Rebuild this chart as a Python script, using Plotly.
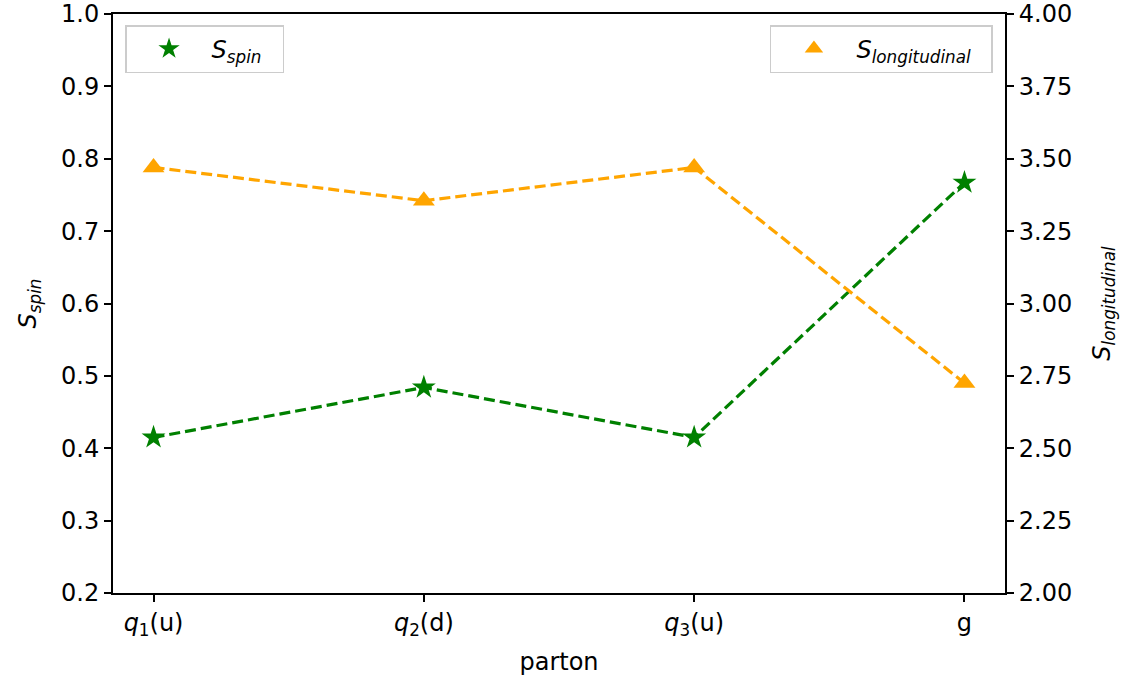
import plotly.graph_objects as go

partons = ["<i>q</i><sub>1</sub>(u)", "<i>q</i><sub>2</sub>(d)", "<i>q</i><sub>3</sub>(u)", "g"]
s_spin = [0.415, 0.484, 0.415, 0.767]
s_long = [3.47, 3.355, 3.47, 2.725]
left_ticks = [0.2, 0.3, 0.4, 0.5, 0.6, 0.7, 0.8, 0.9, 1.0]
right_ticks = [2.00, 2.25, 2.50, 2.75, 3.00, 3.25, 3.50, 3.75, 4.00]

xpos = list(range(len(partons)))
FONT = "DejaVu Sans"
fs = 24
spin_name = "<i>S</i><sub><i>spin</i></sub>"
long_name = "<i>S</i><sub><i>longitudinal</i></sub>"
pad = "&nbsp;&nbsp;"

fig = go.Figure()
fig.add_trace(go.Scatter(
    x=xpos, y=s_spin, mode="lines+markers", name=spin_name, showlegend=False,
    line=dict(color="green", width=3.2, dash="11px,5px"),
    marker=dict(symbol="star", size=18, color="green"), yaxis="y"))
fig.add_trace(go.Scatter(
    x=xpos, y=s_long, mode="lines+markers", name=long_name, showlegend=False,
    line=dict(color="orange", width=3.2, dash="11px,5px"),
    marker=dict(symbol="triangle-up", size=19, color="orange"), yaxis="y2"))
# legend entries (markers only, as in the reference)
fig.add_trace(go.Scatter(
    x=[None], y=[None], mode="markers", name=spin_name + pad, legend="legend",
    marker=dict(symbol="star", size=16, color="green"), yaxis="y"))
fig.add_trace(go.Scatter(
    x=[None], y=[None], mode="markers", name=long_name + pad, legend="legend2",
    marker=dict(symbol="triangle-up", size=16, color="orange"), yaxis="y2"))

axis_common = dict(showline=True, linecolor="black", linewidth=2, ticks="outside",
                   ticklen=7, tickwidth=1.5, tickcolor="black", showgrid=False,
                   zeroline=False, automargin=False,
                   tickfont=dict(family=FONT, size=fs, color="black"))

fig.update_layout(
    width=1123, height=677,
    margin=dict(l=113, r=118, t=14, b=84),
    plot_bgcolor="white", paper_bgcolor="white",
    font=dict(family=FONT, size=fs, color="black"),
    xaxis=dict(range=[-0.15, 3.15], tickmode="array", tickvals=xpos, ticktext=partons,
               mirror=True, title=dict(text="parton", font=dict(family=FONT, size=fs), standoff=14),
               **axis_common),
    yaxis=dict(range=[0.2, 1.0], tickmode="array", tickvals=left_ticks,
               ticktext=[f"{v:.1f}" for v in left_ticks],
               title=dict(text=spin_name, font=dict(family=FONT, size=fs), standoff=18),
               **axis_common),
    yaxis2=dict(range=[2.0, 4.0], tickmode="array", tickvals=right_ticks,
                ticktext=[f"{v:.2f}" for v in right_ticks],
                overlaying="y", side="right",
                title=dict(text=long_name, font=dict(family=FONT, size=fs), standoff=22),
                **axis_common),
    legend=dict(x=0.0135, y=0.981, xanchor="left", yanchor="top",
                bordercolor="#cccccc", borderwidth=1.5, bgcolor="rgba(255,255,255,0.8)",
                font=dict(family=FONT, size=fs), itemwidth=75),
    legend2=dict(x=0.9865, y=0.981, xanchor="right", yanchor="top",
                 bordercolor="#cccccc", borderwidth=1.5, bgcolor="rgba(255,255,255,0.8)",
                 font=dict(family=FONT, size=fs), itemwidth=75),
    showlegend=True,
)

fig.write_html("out.html")
